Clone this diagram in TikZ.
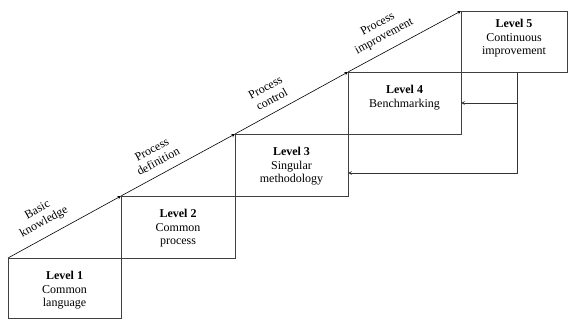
\documentclass[tikz,border=0pt]{standalone}
\usepackage{fontspec}
\setmainfont{Liberation Serif}
\usetikzlibrary{positioning}

\begin{document}
\begin{tikzpicture}[>=stealth, x=1pt, y=1pt,
		lvlbox/.style={draw=black!75, line width=0.8pt, minimum width=113pt, minimum height=62pt, inner sep=0pt, outer sep=0pt, anchor=south west},
		lvltext/.style={align=center, inner sep=0pt, font=\fontsize{12}{13.5}\selectfont},
		steplabel/.style={sloped, pos=0.38, above=5pt, align=center, font=\fontsize{12}{13.5}\selectfont},
		rise/.style={->, line width=0.6pt},
		feedback/.style={->, line width=0.7pt, draw=black!80}]
			\useasboundingbox (0,0) rectangle (569,322);
			
			\node[lvlbox, minimum height=60pt] (l1) at (8,4) {};
			\node[lvlbox, minimum width=114pt] (l2) at (l1.north east) {};
			\node[lvlbox] (l3) at (l2.north east) {};
			\node[lvlbox] (l4) at (l3.north east) {};
			\node[lvlbox, minimum width=106pt, minimum height=61pt] (l5) at (l4.north east) {};
			
			\node[lvltext, below=13pt of l1.north] (t1) {\textbf{Level 1}\\Common\\language};
			\node[lvltext, below=13pt of l2.north] (t2) {\textbf{Level 2}\\Common\\process};
			\node[lvltext, below=13pt of l3.north] (t3) {\textbf{Level 3}\\Singular\\methodology};
			\node[lvltext, below=13pt of l4.north] (t4) {\textbf{Level 4}\\Benchmarking};
			\node[lvltext, below=8pt of l5.north] (t5) {\textbf{Level 5}\\Continuous\\improvement};
			
			\draw[rise] (l1.north west) -- node[steplabel] {Basic\\knowledge} (l2.north west);
			\draw[rise] (l2.north west) -- node[steplabel] {Process\\definition} (l3.north west);
			\draw[rise] (l3.north west) -- node[steplabel] {Process\\control} (l4.north west);
			\draw[rise] (l4.north west) -- node[steplabel] {Process\\improvement} (l5.north west);
			
			\coordinate (fb) at ([xshift=56pt]l5.south west);
			\draw[feedback] (fb) |- ([yshift=-8pt]l3.east);
			\draw[feedback] (fb |- l4.east) -- (l4.east);
		\end{tikzpicture}
\end{document}
